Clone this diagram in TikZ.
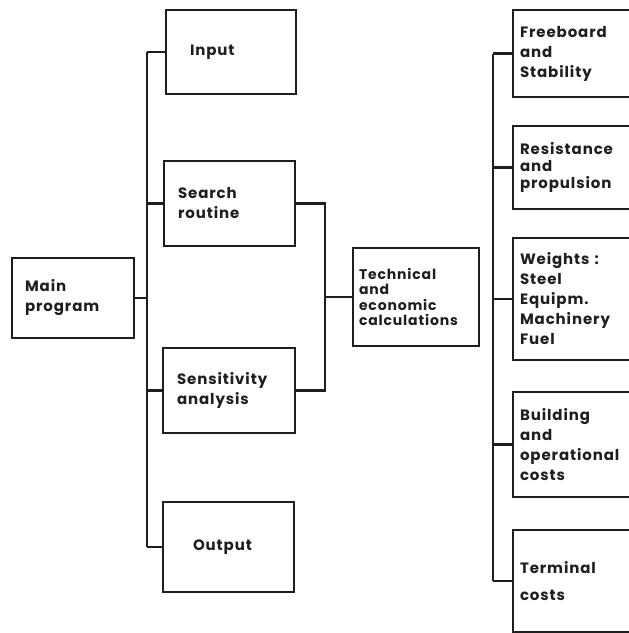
\documentclass[tikz,border=0pt]{standalone}
\usepackage{fontspec}
\setmainfont{Poppins}[LetterSpace=6]
\usepackage{xcolor}
\usepackage{tikz}
\definecolor{ink}{HTML}{1E1E1E}

\begin{document}
\begin{tikzpicture}[x=1pt,y=-1pt,line width=2.8pt,color=ink,
    blk/.style={draw=ink,rectangle,align=left,inner xsep=0pt,inner ysep=2pt,
      font=\bfseries\fontsize{15}{20}\selectfont}]
    \useasboundingbox (0,0) rectangle (629,633);
    \clip (0,0) rectangle (629,633);
    \node[blk,minimum width=122,minimum height=80,text width=96] (main) at (73,298) {Main\\program};
    \node[blk,minimum width=130,minimum height=84,text width=82] (inp) at (231,52) {Input};
    \node[blk,minimum width=131,minimum height=85,text width=103] (srch) at (229.5,203.5) {Search\\routine};
    \node[blk,minimum width=132,minimum height=85,text width=104] (sens) at (229,390.5) {Sensitivity\\analysis};
    \node[blk,minimum width=131,minimum height=90,text width=71] (outp) at (228.5,547) {Output};
    \node[blk,minimum width=126,minimum height=98,text width=114,font=\bfseries\fontsize{14}{15.5}\selectfont] (tech) at (416,297) {Technical\\and\\economic\\calculations};
    \node[blk,minimum width=137,minimum height=87,text width=123] (fsb) at (581.5,53.5) {Freeboard\\and\\Stability};
    \node[blk,minimum width=137,minimum height=83,text width=123,font=\bfseries\fontsize{15}{17}\selectfont] (res) at (581.5,167.5) {Resistance\\and\\propulsion};
    \node[blk,minimum width=137,minimum height=122,text width=123] (wgt) at (581.5,299) {Weights :\\Steel\\Equipm.\\Machinery\\Fuel};
    \node[blk,minimum width=137,minimum height=105,text width=123] (bld) at (581.5,444.5) {Building\\and\\operational\\costs};
    \node[blk,minimum width=137,minimum height=102,text width=123,font=\bfseries\fontsize{15}{27}\selectfont] (trm) at (581.5,581) {Terminal\\costs};
    \coordinate (lt) at (147,52);
    \coordinate (lb) at (147,547);
    \draw (lt) -- (lb);
    \draw (main.east) -- (main.east -| lt);
    \foreach \n in {inp,srch,sens,outp}
      \draw (\n.west) -- (\n.west -| lt);
    \coordinate (mt) at (325,203.5);
    \draw (srch.east) -- (mt) |- (sens.east);
    \draw (tech.west) -- (tech.west -| mt);
    \coordinate (rt) at (493,53.5);
    \coordinate (rb) at (493,581);
    \draw (rt) -- (rb);
    \foreach \n in {fsb,res,wgt,bld,trm}
      \draw (\n.west) -- (\n.west -| rt);
  \end{tikzpicture}
\end{document}
